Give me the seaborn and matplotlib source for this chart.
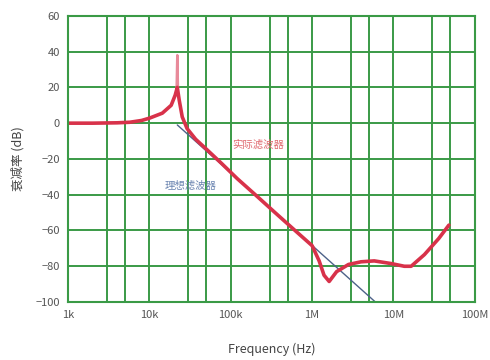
import numpy as np
import pandas as pd
import matplotlib
matplotlib.use("Agg")
import matplotlib.pyplot as plt
import seaborn as sns

# Datos
freq_real = [1e3, 2e3, 4e3, 5.7e3, 8e3, 10e3, 14.4e3, 18.5e3, 20.7e3, 22e3, 23.2e3,
             25.3e3, 29e3, 37e3, 50e3, 77e3, 120e3, 200e3, 350e3, 550e3, 1e6, 1.22e6,
             1.4e6, 1.62e6, 2e6, 2.8e6, 4e6, 5.8e6, 9.4e6, 13.6e6, 16.5e6, 24e6, 36e6, 48e6]
db_real = [0, 0, 0.2, 0.5, 1.5, 2.8, 5.6, 10, 15.6, 20, 13,
           3.5, -3, -9, -14.5, -22.5, -31, -40, -50, -58, -68.5, -77,
           -85, -88.5, -83, -79, -77.5, -77, -78.5, -80, -80, -73.5, -64.5, -57]

freq_spike = [21.6e3, 22e3, 22.4e3]
db_spike = [20, 38, 20]

freq_ideal = [22e3, 6.0e6]
db_ideal = [-1, -100]

xticks = [1e3, 1e4, 1e5, 1e6, 1e7, 1e8]
xlabels = ["1k", "10k", "100k", "1M", "10M", "100M"]
yticks = [60, 40, 20, 0, -20, -40, -60, -80, -100]

sns.set_style("white")
plt.rcParams['font.family'] = ['Noto Sans CJK SC', 'DejaVu Sans']

fig = plt.figure(figsize=(4.9, 3.6), dpi=100)
ax = fig.add_axes([0.139, 0.161, 0.83, 0.795])

verde = "#3a9a46"
# rejilla: 1, 3, 5 por década
for d in range(3, 8):
    for m in (1, 3, 5):
        f = m * 10 ** d
        if 1e3 < f < 1e8:
            ax.axvline(f, color=verde, lw=1.4, zorder=0)
for y in yticks[1:-1]:
    ax.axhline(y, color=verde, lw=1.4, zorder=0)

df_real = pd.DataFrame({"f": freq_real, "db": db_real})
df_spike = pd.DataFrame({"f": freq_spike, "db": db_spike})
df_ideal = pd.DataFrame({"f": freq_ideal, "db": db_ideal})

sns.lineplot(data=df_ideal, x="f", y="db", ax=ax, color="#4d6289", lw=1.0, sort=False)
sns.lineplot(data=df_spike, x="f", y="db", ax=ax, color="#e88a9a", lw=1.8, sort=False)
sns.lineplot(data=df_real, x="f", y="db", ax=ax, color="#d8324a", lw=2.6, sort=False)

ax.set_xscale("log")
ax.set_xlim(1e3, 1e8)
ax.set_ylim(-100, 60)
ax.set_xticks(xticks)
ax.set_xticklabels(xlabels)
ax.set_yticks(yticks)
ax.minorticks_off()
ax.tick_params(length=0, labelsize=8, colors="#555555", pad=6)
for s in ax.spines.values():
    s.set_color(verde)
    s.set_linewidth(1.5)

ax.text(2.2e5, -12, "实际滤波器", color="#e06a70", fontsize=7.5, ha="center", va="center")
ax.text(3.2e4, -35, "理想滤波器", color="#6a84b0", fontsize=7.5, ha="center", va="center")

ax.set_xlabel("Frequency (Hz)", fontsize=9, color="#444444", labelpad=16)
ax.set_ylabel("衰减率 (dB)", fontsize=9, color="#444444", labelpad=8)

fig.savefig("out.png", dpi=100)
